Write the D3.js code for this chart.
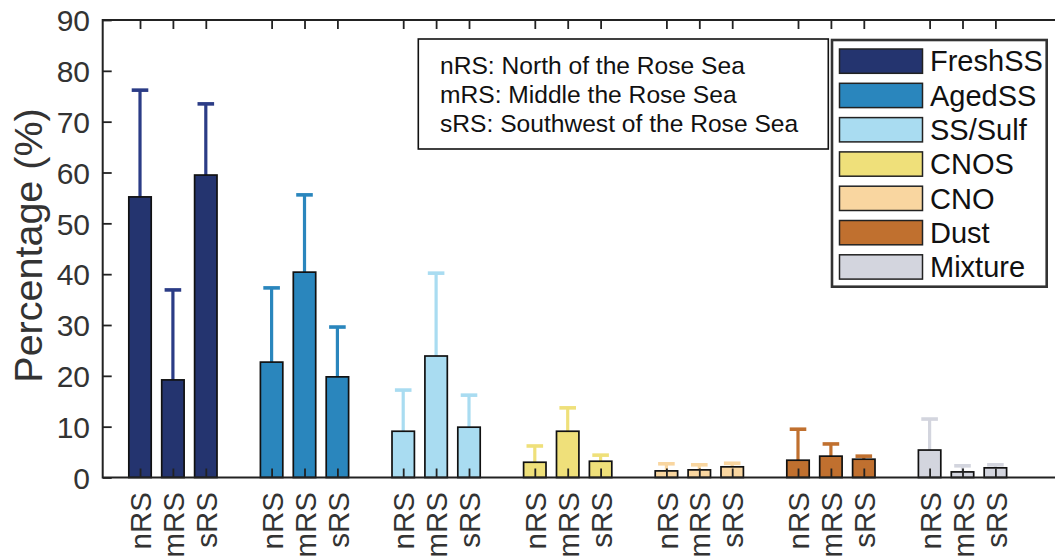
<!DOCTYPE html>
<html>
<head>
<meta charset="utf-8">
<script src="https://cdn.jsdelivr.net/npm/d3@7"></script>
<style>
  html, body { margin: 0; padding: 0; background: #fff; }
  svg { display: block; font-family: "Liberation Sans", Arial, Helvetica, sans-serif; }
</style>
</head>
<body>
<svg id="chart" width="1055" height="557"></svg>
<script>
// ---- data ----
const types = ["FreshSS", "AgedSS", "SS/Sulf", "CNOS", "CNO", "Dust", "Mixture"];
const regions = ["nRS", "mRS", "sRS"];
const regionNotes = [
  "nRS: North of the Rose Sea",
  "mRS: Middle the Rose Sea",
  "sRS: Southwest of the Rose Sea"
];
// mean percentage per type, in order nRS, mRS, sRS
const freshSS = [55.2, 19.2, 59.5];
const agedSS  = [22.7, 40.4, 19.8];
const ssSulf  = [9.1, 23.9, 9.9];
const cnos    = [3.0, 9.1, 3.2];
const cno     = [1.3, 1.5, 2.1];
const dust    = [3.4, 4.2, 3.6];
const mixture = [5.4, 1.1, 1.9];
// standard deviations (upper error bars)
const freshSSErr = [21.0, 17.7, 14.0];
const agedSSErr  = [14.6, 15.2, 9.8];
const ssSulfErr  = [8.1, 16.3, 6.3];
const cnosErr    = [3.2, 4.6, 1.2];
const cnoErr     = [1.4, 1.0, 0.7];
const dustErr    = [6.1, 2.4, 0.6];
const mixtureErr = [6.1, 1.2, 0.6];
const yTicks = [0, 10, 20, 30, 40, 50, 60, 70, 80, 90];
const colors = ["#24346f", "#2a86bd", "#a9dcf1", "#efe07a", "#f9d6a0", "#c0702f", "#d3d5de"];
const errColors = ["#2b3c86", "#2a86bd", "#a9dcf1", "#efe07a", "#f9d6a0", "#c0702f", "#d3d5de"];

const means = [freshSS, agedSS, ssSulf, cnos, cno, dust, mixture];
const errs = [freshSSErr, agedSSErr, ssSulfErr, cnosErr, cnoErr, dustErr, mixtureErr];

const records = [];
types.forEach((t, ti) => {
  regions.forEach((r, ri) => {
    records.push({ type: t, ti, region: r, pos: ti * 4 + ri + 1, value: means[ti][ri], err: errs[ti][ri] });
  });
});

// ---- layout ----
const svg = d3.select("#chart");
const pL = 102.7, pT = 20, pB = 477.5, pR = 1060;
const x = d3.scaleLinear().domain([-0.134, 1 + (pR - 140) / 32.9]).range([pL, pR]);
const y = d3.scaleLinear().domain([0, 90]).range([pB, pT]);
const barW = 22.4;
const tickLen = 9;
const font = "Liberation Sans, Arial, sans-serif";

// error bars (upper only), drawn under bars
const eb = svg.append("g");
records.forEach(d => {
  const cx = x(d.pos), yTop = y(d.value + d.err);
  eb.append("line").attr("x1", cx).attr("x2", cx).attr("y1", y(d.value)).attr("y2", yTop)
    .attr("stroke", errColors[d.ti]).attr("stroke-width", 3.2);
  eb.append("line").attr("x1", cx - 8.3).attr("x2", cx + 8.3).attr("y1", yTop).attr("y2", yTop)
    .attr("stroke", errColors[d.ti]).attr("stroke-width", 3.6);
});

// bars
svg.append("g").selectAll("rect").data(records).join("rect")
  .attr("x", d => x(d.pos) - barW / 2)
  .attr("width", barW)
  .attr("y", d => y(d.value))
  .attr("height", d => y(0) - y(d.value))
  .attr("fill", d => colors[d.ti])
  .attr("stroke", "#111")
  .attr("stroke-width", 1.7);

// axes
const positions = records.map(d => d.pos);
const axLeft = d3.axisLeft(y).tickValues(yTicks).tickSizeInner(-tickLen).tickSizeOuter(0).tickPadding(22);
const gL = svg.append("g").attr("transform", `translate(${pL},0)`).call(axLeft);
gL.select(".domain").remove();
gL.selectAll(".tick line").attr("stroke", "#222").attr("stroke-width", 1.8);
gL.selectAll(".tick text").attr("font-family", font).attr("font-size", 30).attr("fill", "#333")
  .attr("x", -12.7).attr("dy", "0.36em");

const axBottom = d3.axisBottom(x).tickValues(positions).tickSizeInner(-tickLen).tickSizeOuter(0)
  .tickFormat((p, i) => records[i].region);
const gB = svg.append("g").attr("transform", `translate(0,${pB})`).call(axBottom);
gB.select(".domain").remove();
gB.selectAll(".tick line").attr("stroke", "#222").attr("stroke-width", 1.8);
gB.selectAll(".tick text").attr("font-family", font).attr("font-size", 29.5).attr("fill", "#333")
  .attr("text-anchor", "end").attr("transform", "rotate(-90)")
  .attr("x", -14.5).attr("y", 0).attr("dy", "0.36em");

const axTop = d3.axisTop(x).tickValues(positions).tickSizeInner(-tickLen).tickSizeOuter(0).tickFormat("");
const gT = svg.append("g").attr("transform", `translate(0,${pT})`).call(axTop);
gT.select(".domain").remove();
gT.selectAll(".tick line").attr("stroke", "#222").attr("stroke-width", 1.8);

// frame lines
svg.append("path")
  .attr("d", `M${pR},${pT}H${pL}V${pB}H${pR}`)
  .attr("fill", "none").attr("stroke", "#222").attr("stroke-width", 2);

// y label
svg.append("text").attr("transform", `translate(42,245.5) rotate(-90)`)
  .attr("text-anchor", "middle").attr("font-family", font).attr("font-size", 39.5).attr("fill", "#333")
  .text("Percentage (%)");

// region note box
const nb = svg.append("g");
nb.append("rect").attr("x", 418.3).attr("y", 39).attr("width", 410).attr("height", 110)
  .attr("fill", "#fff").attr("stroke", "#111").attr("stroke-width", 1.6);
regionNotes.forEach((t, i) => {
  nb.append("text").attr("x", 440).attr("y", 74.3 + i * 29).attr("font-family", font)
    .attr("font-size", 24.6).attr("fill", "#111").text(t);
});

// legend
const lg = svg.append("g");
lg.append("rect").attr("x", 832).attr("y", 40).attr("width", 214.7).attr("height", 246.7)
  .attr("fill", "#fff").attr("stroke", "#333").attr("stroke-width", 2.6);
types.forEach((t, i) => {
  const yy = 49 + i * 34.3;
  lg.append("rect").attr("x", 839.5).attr("y", yy).attr("width", 83).attr("height", 24.3)
    .attr("fill", colors[i]).attr("stroke", "#222").attr("stroke-width", 1.5);
  lg.append("text").attr("x", 930).attr("y", yy + 12.2).attr("dy", "0.35em")
    .attr("font-family", font).attr("font-size", 29).attr("fill", "#111").text(t);
});
</script>
</body>
</html>
